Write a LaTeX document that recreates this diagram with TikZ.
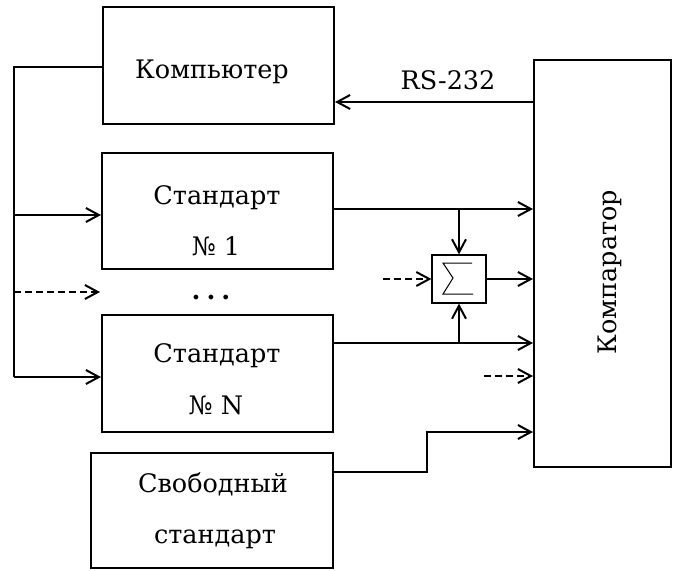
\documentclass[tikz,border=0pt]{standalone}
\usepackage{fontspec}
\setmainfont{DejaVu Serif}
\usetikzlibrary{arrows.meta}
\begin{document}
\begin{tikzpicture}[x=1pt,y=-1pt,
  blk/.style={draw,line width=2pt,inner sep=0pt},
  wire/.style={line width=2pt},
  arr/.style={wire,-{Straight Barb[length=13pt,width=14pt]}},
  darr/.style={arr,dash pattern=on 7pt off 4pt},
  txt/.style={font=\fontsize{25.5pt}{30pt}\selectfont,anchor=base,inner sep=0pt}
]
\useasboundingbox (0,0) rectangle (679,570);
% blocks
\node[blk,minimum width=231pt,minimum height=117pt] (comp) at (218.5,65.5) {};
\node[blk,minimum width=231pt,minimum height=116pt] (std1) at (217.5,211) {};
\node[blk,minimum width=231pt,minimum height=117pt] (stdN) at (217.5,373.5) {};
\node[blk,minimum width=242pt,minimum height=115pt] (svob) at (212,510.5) {};
\node[blk,minimum width=137pt,minimum height=407pt] (cmp) at (602.5,263.5) {};
\node[draw,line width=1.2pt,minimum width=54pt,minimum height=48pt,inner sep=0pt] (sig) at (459,279) {};
\begin{scope}[shift={(sig.center)}]
  \draw[line width=1pt] (13,-16) -- (-16,-16) -- (-6,-1) -- (-16,15) -- (14,15);
\end{scope}
% texts
\node[txt] (tcomp) at (212,78) {Компьютер};
\node[txt] (t1a) at (217,204) {Стандарт};
\node[txt] (t1b) at (216,255) {№ 1};
\node[txt] (tNa) at (217,362) {Стандарт};
\node[txt] (tNb) at (216,414) {№ N};
\node[txt] (tsa) at (213,492) {Свободный};
\node[txt] (tsb) at (215,543) {стандарт};
\node[txt,rotate=90] (tcmp) at (616,272) {Компаратор};
\node[txt] (trs) at (448,89) {RS-232};
\node[txt] (dots) at (211,299) {\bfseries .\hspace{6pt}.\hspace{6pt}.};
% bus
\coordinate (busT) at (14,67);
\coordinate (b1) at (14,215);
\coordinate (bd) at (14,292);
\coordinate (bdE) at (100,292);
\coordinate (busB) at (14,377);
\draw[wire] (comp.west |- busT) -- (busT) -- (busB);
\draw[arr] (b1) -- (b1 -| std1.west);
\draw[arr] (busB) -- (busB -| stdN.west);
\draw[darr] (bd) -- (bdE);
% RS-232
\coordinate (rsy) at (0,102);
\draw[arr] (cmp.west |- rsy) -- (comp.east |- rsy);
% outputs
\coordinate (o1) at (0,209);
\draw[arr] (std1.east |- o1) -- (cmp.west |- o1);
\draw[arr] (sig.north |- o1) -- (sig.north);
\draw[arr] (sig.east) -- (sig.east -| cmp.west);
\coordinate (sd) at (383,279);
\draw[darr] (sd) -- (sig.west);
\coordinate (oN) at (0,343);
\draw[arr] (stdN.east |- oN) -- (cmp.west |- oN);
\draw[arr] (sig.south |- oN) -- (sig.south);
\coordinate (cd) at (484,376);
\draw[darr] (cd) -- (cd -| cmp.west);
\coordinate (sv1) at (0,472);
\coordinate (sv2) at (427,472);
\coordinate (sv3) at (427,432);
\draw[arr] (svob.east |- sv1) -- (sv2) -- (sv3) -- (sv3 -| cmp.west);
\end{tikzpicture}
\end{document}
